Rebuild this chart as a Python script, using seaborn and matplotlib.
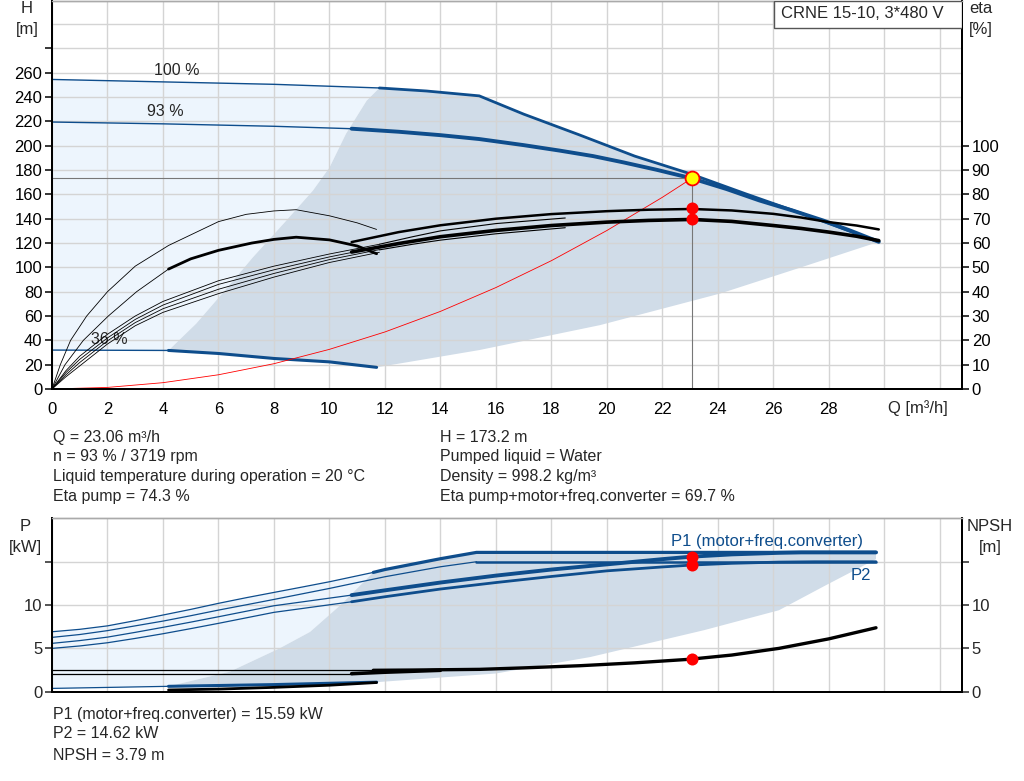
import matplotlib
matplotlib.use("Agg")
import matplotlib.pyplot as plt
from matplotlib.patches import Rectangle
import pandas as pd
import seaborn as sns

sns.set_style("white")
plt.rcParams['font.family'] = ['Liberation Sans', 'DejaVu Sans']

BLUE = '#0e4d8c'
LIGHT = '#edf5fd'
DARK = '#d0dce8'
GRID = '#d4d4d4'

# ---------------- top chart: head curves (Q m3/h, H m)
q_100 = [0, 4, 8, 11.8, 13.5, 15.4, 17, 19, 21, 23, 25, 27, 29.8]
h_100 = [254.5, 252.5, 250.5, 247.5, 245, 241, 226, 209, 191.5, 177, 160.5, 144.5, 121]
q_93 = [0, 4, 8, 10.8, 12.5, 14, 15.4, 17, 18.3, 19.5, 20.6, 21.8, 23.06, 24.3, 25.5,
        26.7, 27.8, 28.8, 29.8]
h_93 = [219.5, 218, 216, 214, 211.5, 208.7, 205.5, 200.5, 196, 191.5, 186.3, 180.2, 173.2,
        164.5, 155, 146.7, 138.5, 130, 121]
q_36 = [0, 4.2, 6, 8, 10, 11.7]
h_36 = [32, 31.7, 29.2, 25.1, 22.3, 17.8]

# operating range boundaries
q_left = [4.2, 5.2, 6.23, 7.25, 8.34, 9.4, 10.0, 10.6, 11.34, 11.8]
h_left = [31.7, 53.8, 81, 108.5, 135.8, 163, 182, 210, 237, 247.5]
q_low = [11.7, 12.54, 15.4, 19.75, 24.1, 27, 29.8]
h_low = [17.8, 21, 32, 52.5, 78.6, 100, 121]

# system curve
q_sys = [0, 2, 4, 6, 8, 10, 12, 14, 16, 18, 20, 22, 23.06]
h_sys = [0, 1.3, 5.2, 11.7, 20.8, 32.6, 46.9, 63.8, 83.4, 105.5, 130.3, 157.6, 173.2]

# efficiency curves (%)
q_e1 = [0, 0.3, 0.67, 1.25, 2.0, 3.0, 4.2, 6, 7, 8, 8.8, 10, 11, 11.7]
e_e1 = [0, 10, 20, 30, 40, 50.5, 59, 68.8, 71.8, 73.2, 73.7, 71.2, 68.3, 65.6]
q_e2 = [0, 0.47, 1.13, 2.03, 3.05, 4.2, 5, 6, 7.2, 8, 8.8, 10, 11, 11.7]
e_e2 = [0, 10, 20, 30, 40, 49.3, 53.5, 57, 60, 61.5, 62.4, 61.3, 58.8, 55.6]
q_bundle = [0, 0.5, 1, 2, 3, 4, 6, 8, 10, 11.8]
e_b1 = [0, 7.5, 13.5, 22.5, 30, 36, 44.5, 50.5, 55.5, 59.5]
e_b2 = [0, 6.7, 12.2, 21, 28.6, 34.5, 43, 49, 54.3, 58.4]
e_b3 = [0, 5.8, 10.9, 19.8, 27.3, 33, 41, 47.5, 53.2, 57.3]
e_b4 = [0, 5, 9.5, 18.5, 26, 31.5, 39.2, 46, 52, 56.2]
q_eth = [10.8, 12.5, 14, 16, 18, 20, 21.5, 23.06, 24.5, 26, 27, 28, 29, 29.8]
e_pump = [60.4, 64.5, 67.3, 70, 71.9, 73.1, 73.7, 74.0, 73.4, 72, 70.5, 68.6, 67.2, 65.6]
e_total = [56.3, 59.8, 62.6, 65.2, 67.2, 68.6, 69.3, 69.7, 68.9, 67.2, 66, 64.5, 62.8, 61]
q_e100 = [11.8, 13, 14, 16, 18.5]
e_p100 = [59.5, 62.6, 65, 68, 70.3]
e_t100 = [57.2, 59.5, 61.2, 63.8, 66.3]

# ---------------- bottom chart: power (kW) and NPSH (m)
q_p1_100 = [0, 1, 2, 3, 4, 5, 6, 7, 8, 9, 10, 11.58, 12, 14, 15.3, 20, 25, 29.7]
p_p1_100 = [6.92, 7.2, 7.6, 8.2, 8.85, 9.5, 10.2, 10.85, 11.46, 12.07, 12.69, 13.77, 14.1,
            15.35, 16.08, 16.08, 16.08, 16.08]
q_p2_100 = [0, 1, 2, 3, 4, 5, 6, 7, 8, 10, 12, 14, 15.3, 20, 25, 29.7]
p_p2_100 = [6.27, 6.6, 7.05, 7.6, 8.15, 8.77, 9.42, 10.03, 10.65, 11.92, 13.27, 14.42, 15.0,
            15.0, 15.0, 15.0]
q_p1_93 = [0, 1, 2, 3, 4, 5, 6, 8, 10.8, 12, 14, 16, 18, 20, 22, 23.06, 24.5, 26.2, 27, 29.7]
p_p1_93 = [5.58, 5.9, 6.3, 6.85, 7.43, 8.03, 8.65, 9.92, 11.15, 11.7, 12.6, 13.4, 14.1, 14.7,
           15.3, 15.59, 15.85, 16.03, 16.08, 16.08]
q_p2_93 = [0, 1, 2, 3, 4, 5, 6, 8, 10.8, 12, 14, 16, 18, 20, 22, 23.06, 24.5, 26.2, 27.5, 29.7]
p_p2_93 = [5.0, 5.28, 5.65, 6.15, 6.69, 7.28, 7.89, 9.16, 10.38, 10.96, 11.85, 12.6, 13.3,
           13.95, 14.4, 14.62, 14.82, 14.96, 15.0, 15.0]
q_p_36 = [0, 4.2, 8, 11.7]
p_p_36 = [0.38, 0.62, 0.82, 1.1]
q_pleft = [4.2, 6.4, 8.2, 9.3, 10.4, 11.58]
p_pleft = [0.62, 2.3, 5.0, 6.9, 10.0, 13.77]
q_plow = [11.7, 16, 19.4, 23.5, 26.2, 27.9, 29.7]
p_plow = [1.1, 2.1, 4.0, 7.1, 9.4, 12.3, 15.3]

q_npsh100 = [0, 11.58, 13, 15.42, 17, 19.03, 21, 22.97, 24.5, 26.2, 28, 29.7]
v_npsh100 = [2.47, 2.47, 2.5, 2.58, 2.75, 3.0, 3.33, 3.74, 4.23, 5.0, 6.1, 7.38]
q_npsh93 = [0, 10.8, 12, 14]
v_npsh93 = [2.08, 2.08, 2.25, 2.47]
q_npsh36 = [4.2, 6, 8, 10, 11.7]
v_npsh36 = [0.2, 0.3, 0.5, 0.75, 1.06]

Q_OP, H_OP, ETA_P, ETA_T = 23.06, 173.2, 74.3, 69.7
P1_OP, P2_OP, NPSH_OP = 15.59, 14.62, 3.79


def curve(ax, q, v, split, color, thin, thick):
    df = pd.DataFrame({'q': q, 'v': v})
    a = df[df.q <= split]
    b = df[df.q >= split]
    if len(a) > 1:
        sns.lineplot(data=a, x='q', y='v', ax=ax, color=color, lw=thin,
                     sort=False, estimator=None, legend=False)
    if len(b) > 1:
        sns.lineplot(data=b, x='q', y='v', ax=ax, color=color, lw=thick,
                     sort=False, estimator=None, legend=False)


def cut(q, v, lo, hi):
    pts = [(a, b) for a, b in zip(q, v) if lo <= a <= hi]
    return [p[0] for p in pts], [p[1] for p in pts]


fig = plt.figure(figsize=(10.24, 7.81), dpi=100)
ax = fig.add_axes([52 / 1024, 1 - 389 / 781, 910 / 1024, 388 / 781])
ax_p = fig.add_axes([52 / 1024, 1 - 691.7 / 781, 910 / 1024, 173.7 / 781])

# ---------- fills top
qa, ha = cut(q_100, h_100, 0, 11.8)
light_x = qa + q_left[::-1] + q_36[:2][::-1]
light_y = ha + h_left[::-1] + h_36[:2][::-1]
ax.fill(light_x, light_y, color=LIGHT, lw=0, zorder=0.2)
qb, hb = cut(q_100, h_100, 11.8, 40)
dark_x = qb + q_low[::-1] + q_36[1:][::-1] + q_left
dark_y = hb + h_low[::-1] + h_36[1:][::-1] + h_left
ax.fill(dark_x, dark_y, color=DARK, lw=0, zorder=0.2)

curve(ax, q_100, h_100, 11.8, BLUE, 1.0, 2.0)
curve(ax, q_93, h_93, 10.8, BLUE, 1.0, 2.8)
curve(ax, q_36, h_36, 4.2, BLUE, 1.0, 2.2)
sns.lineplot(x=q_sys, y=h_sys, ax=ax, color='red', lw=0.6, sort=False, estimator=None)
ax.plot([0, Q_OP], [H_OP, H_OP], color='#777777', lw=0.8)
ax.plot([Q_OP, Q_OP], [0, H_OP], color='#777777', lw=0.8)

ax.text(4.5, 261.5, '100 %', fontsize=11.5, ha='center', va='center')
ax.text(4.07, 228, '93 %', fontsize=11.5, ha='center', va='center')
ax.text(2.05, 41, '36 %', fontsize=11.5, ha='center', va='center')

ax.set_xlim(0, 32.8)
ax.set_ylim(0, 319)
ax.set_xticks(range(0, 33, 2))
ax.set_xticklabels([str(v) if v <= 28 else '' for v in range(0, 33, 2)])
ax.set_yticks(range(0, 300, 20))
ax.set_yticklabels([str(v) if v <= 260 else '' for v in range(0, 300, 20)])
ax.set_yticks(range(0, 320, 20), minor=True)
ax.set_axisbelow(True)
ax.grid(True, which='major', color=GRID, lw=1)
ax.grid(True, which='minor', axis='y', color=GRID, lw=1)
ax.tick_params(which='minor', length=0)
ax.set_xlabel('')
ax.set_ylabel('')

ax2 = ax.twinx()
ax2.set_ylim(0, 159.5)
curve(ax2, q_e1, e_e1, 20, 'black', 0.6, 0.6)
curve(ax2, q_e2, e_e2, 4.2, 'black', 0.6, 2.0)
for e in (e_b1, e_b2, e_b3, e_b4):
    sns.lineplot(x=q_bundle, y=e, ax=ax2, color='black', lw=0.6, sort=False, estimator=None)
sns.lineplot(x=q_e100, y=e_p100, ax=ax2, color='black', lw=0.8, sort=False, estimator=None)
sns.lineplot(x=q_e100, y=e_t100, ax=ax2, color='black', lw=0.8, sort=False, estimator=None)
sns.lineplot(x=q_eth, y=e_pump, ax=ax2, color='black', lw=1.8, sort=False, estimator=None)
sns.lineplot(x=q_eth, y=e_total, ax=ax2, color='black', lw=2.6, sort=False, estimator=None)
ax2.scatter([Q_OP, Q_OP], [ETA_P, ETA_T], s=75, color='red', zorder=5, lw=0)
ax2.scatter([Q_OP], [H_OP / 2], s=100, color='#ffff00', edgecolor='red', lw=1.3, zorder=6)
ax2.set_yticks(range(0, 101, 10))
ax2.set_ylabel('')

for a in (ax, ax2):
    a.tick_params(axis='both', direction='out', length=5, width=1.1, labelsize=12, pad=2,
                  colors='black')
ax.tick_params(axis='x', pad=4)
for s in ('left', 'bottom', 'right'):
    for a in (ax, ax2):
        a.spines[s].set_color('black')
        a.spines[s].set_linewidth(1.4)
for a in (ax, ax2):
    a.spines['top'].set_color('#aaaaaa')
    a.spines['top'].set_linewidth(1.0)

ax2.add_patch(Rectangle((0.7934, 0.9296), 0.2066, 0.0704, transform=ax2.transAxes,
                        facecolor='white', edgecolor='#555555', lw=1, zorder=7))
ax2.text(0.801, 0.9665, 'CRNE 15-10, 3*480 V', transform=ax2.transAxes, fontsize=12,
         va='center', ha='left', zorder=8)

# ---------- bottom chart
qa, pa = cut(q_p1_100, p_p1_100, 0, 11.58)
ax_p.fill(qa + q_pleft[::-1] + q_p_36[:2][::-1], pa + p_pleft[::-1] + p_p_36[:2][::-1],
          color=LIGHT, lw=0, zorder=0.2)
qb, pb = cut(q_p1_100, p_p1_100, 11.58, 40)
ax_p.fill(qb + q_plow[::-1] + q_p_36[1:][::-1] + q_pleft,
          pb + p_plow[::-1] + p_p_36[1:][::-1] + p_pleft,
          color=DARK, lw=0, zorder=0.2)

curve(ax_p, q_p1_100, p_p1_100, 11.58, BLUE, 0.9, 2.3)
curve(ax_p, q_p2_100, p_p2_100, 15.3, BLUE, 0.9, 1.8)
curve(ax_p, q_p1_93, p_p1_93, 10.8, BLUE, 0.9, 2.8)
curve(ax_p, q_p2_93, p_p2_93, 10.8, BLUE, 0.9, 2.0)
curve(ax_p, q_p_36, p_p_36, 4.2, BLUE, 0.9, 2.2)
curve(ax_p, q_npsh100, v_npsh100, 11.58, 'black', 0.9, 2.4)
curve(ax_p, q_npsh93, v_npsh93, 10.8, 'black', 0.9, 2.6)
curve(ax_p, q_npsh36, v_npsh36, 0, 'black', 2.0, 2.0)
ax_p.scatter([Q_OP, Q_OP, Q_OP], [P1_OP, P2_OP, NPSH_OP], s=75, color='red', zorder=5, lw=0)
ax_p.text(25.77, 17.3, 'P1 (motor+freq.converter)', color=BLUE, fontsize=12,
          ha='center', va='center')
ax_p.text(29.15, 13.4, 'P2', color=BLUE, fontsize=12, ha='center', va='center')

ax_p.set_xlim(0, 32.8)
ax_p.set_ylim(0, 20.05)
ax_p.set_xticks(range(0, 33, 2))
ax_p.set_xticklabels([])
ax_p.set_yticks([0, 5, 10, 15])
ax_p.set_yticklabels(['0', '5', '10', ''])
ax_p.set_axisbelow(True)
ax_p.grid(True, color=GRID, lw=1)
ax_p.set_xlabel('')
ax_p.set_ylabel('')
ax_p.tick_params(axis='y', direction='out', length=5, width=1.1, labelsize=12, pad=2)
ax_p.tick_params(axis='x', length=0)

ax_n = ax_p.twinx()
ax_n.set_ylim(0, 20.05)
ax_n.set_yticks([0, 5, 10, 15])
ax_n.set_yticklabels(['0', '5', '10', ''])
ax_n.tick_params(axis='y', direction='out', length=5, width=1.1, labelsize=12, pad=2)
for a in (ax_p, ax_n):
    for s in ('left', 'bottom', 'right'):
        a.spines[s].set_color('black')
        a.spines[s].set_linewidth(1.4)
    a.spines['top'].set_color('#aaaaaa')
    a.spines['top'].set_linewidth(1.0)

# ---------- axis titles and info text
fs = 12
fig.text(27 / 1024, 1 - 19 / 781, 'H\n[m]', ha='center', va='center', fontsize=fs, linespacing=1.45)
fig.text(969 / 1024, 1 - 19 / 781, 'eta\n[%]', ha='left', va='center', fontsize=fs, linespacing=1.45)
fig.text(918 / 1024, 1 - 408 / 781, 'Q [m³/h]', ha='center', va='center', fontsize=fs)
fig.text(25 / 1024, 1 - 537 / 781, 'P\n[kW]', ha='center', va='center', fontsize=fs, linespacing=1.45)
fig.text(990 / 1024, 1 - 537 / 781, 'NPSH\n[m]', ha='center', va='center', fontsize=fs, linespacing=1.45)

left_info = ['Q = 23.06 m³/h', 'n = 93 % / 3719 rpm',
             'Liquid temperature during operation = 20 °C', 'Eta pump = 74.3 %']
right_info = ['H = 173.2 m', 'Pumped liquid = Water', 'Density = 998.2 kg/m³',
              'Eta pump+motor+freq.converter = 69.7 %']
rows = [437, 457, 477, 497]
for y, l, r in zip(rows, left_info, right_info):
    fig.text(53 / 1024, 1 - y / 781, l, fontsize=11.5, va='center')
    fig.text(440 / 1024, 1 - y / 781, r, fontsize=11.5, va='center')
bottom_info = ['P1 (motor+freq.converter) = 15.59 kW', 'P2 = 14.62 kW', 'NPSH = 3.79 m']
for y, t in zip([714, 734, 756], bottom_info):
    fig.text(53 / 1024, 1 - y / 781, t, fontsize=11.5, va='center')

fig.savefig('out.png', dpi=100, facecolor='white')
